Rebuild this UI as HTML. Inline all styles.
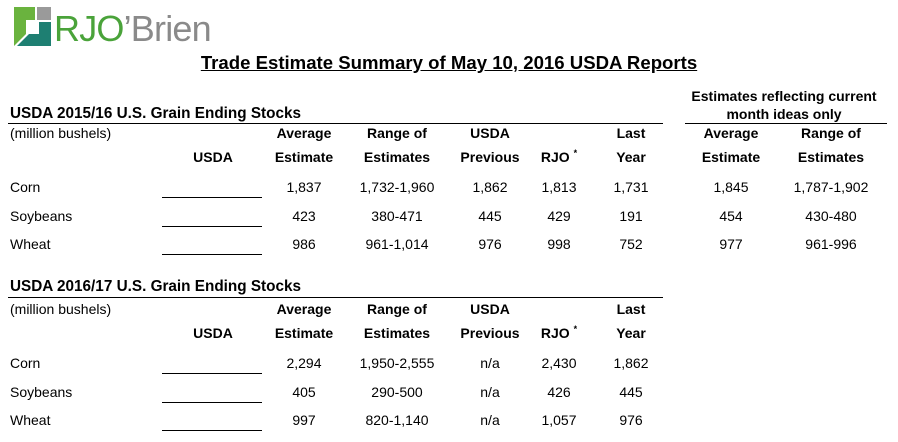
<!DOCTYPE html>
<html><head><meta charset="utf-8"><style>
body{margin:0;width:898px;height:442px;background:#fff;position:relative;font-family:"Liberation Sans",Arial,sans-serif;color:#000;overflow:hidden}
.t{position:absolute;font-size:14px;white-space:nowrap;text-align:center;line-height:16px}
.b{font-weight:bold}
.l{text-align:left}
.ln{position:absolute;height:1px;background:#000}
sup{line-height:0;font-size:9px;vertical-align:6px}
</style></head><body>
<svg style="position:absolute;left:0;top:0" width="60" height="55">
<polygon points="14,7 35,7 35,20 26,20 26,34 14,46" fill="#6ab33e"/>
<rect x="37" y="7" width="14" height="13" fill="#9a9a9a"/>
<polygon points="39,22 51,22 51,46 17,46 29,34 39,34" fill="#1e7f72"/>
</svg>
<div class="t l" style="left:54px;top:9px;font-size:36px;line-height:40px;color:#8a8a8a;letter-spacing:-0.8px"><span style="color:#4aa33a">RJO</span>’Brien</div>
<div class="t b" style="left:0;width:898px;top:53px;font-size:18.6px;line-height:20px;text-decoration:underline">Trade Estimate Summary of May 10, 2016 USDA Reports</div>

<div class="t b l" style="left:10px;top:106px;font-size:15.3px">USDA 2015/16 U.S. Grain Ending Stocks</div>
<div class="t b" style="left:670px;width:228px;top:88px">Estimates reflecting current</div>
<div class="t b" style="left:670px;width:228px;top:106px">month ideas only</div>
<div class="ln" style="left:8px;width:655px;top:123px"></div>
<div class="ln" style="left:685px;width:202px;top:123px"></div>

<div class="t b l" style="left:10px;top:279px;font-size:15.3px">USDA 2016/17 U.S. Grain Ending Stocks</div>
<div class="ln" style="left:8px;width:655px;top:297px"></div>

<div id="c"></div>
<script>
var cols=[213,304,397,490,559,631,731,831];
var h='';
function t(x,y,s,cls){h+='<div class="t '+(cls||'')+'" style="left:'+(x-60)+'px;width:120px;top:'+(y-8)+'px">'+s+'</div>';}
function sec(y0,rows,right){
 h+='<div class="t l" style="left:10px;top:'+(y0-8)+'px">(million bushels)</div>';
 var top=['','Average','Range of','USDA','','Last','Average','Range of'];
 var bot=['USDA','Estimate','Estimates','Previous','RJO <sup>*</sup>','Year','Estimate','Estimates'];
 for(var i=0;i<(right?8:6);i++){t(cols[i],y0,top[i],'b');t(cols[i],y0+24,bot[i],'b');}
 var names=['Corn','Soybeans','Wheat'];
 for(var r=0;r<3;r++){var y=y0+54+r*28.5;
  h+='<div class="t l" style="left:10px;top:'+(y-8)+'px">'+names[r]+'</div>';
  h+='<div class="ln" style="left:162px;width:100px;top:'+(y+10)+'px"></div>';
  for(var i=0;i<rows[r].length;i++)t(cols[i+1],y,rows[r][i]);}
}
sec(133,[['1,837','1,732-1,960','1,862','1,813','1,731','1,845','1,787-1,902'],['423','380-471','445','429','191','454','430-480'],['986','961-1,014','976','998','752','977','961-996']],true);
sec(309,[['2,294','1,950-2,555','n/a','2,430','1,862'],['405','290-500','n/a','426','445'],['997','820-1,140','n/a','1,057','976']],false);
document.getElementById('c').innerHTML=h;
</script>
</body></html>
